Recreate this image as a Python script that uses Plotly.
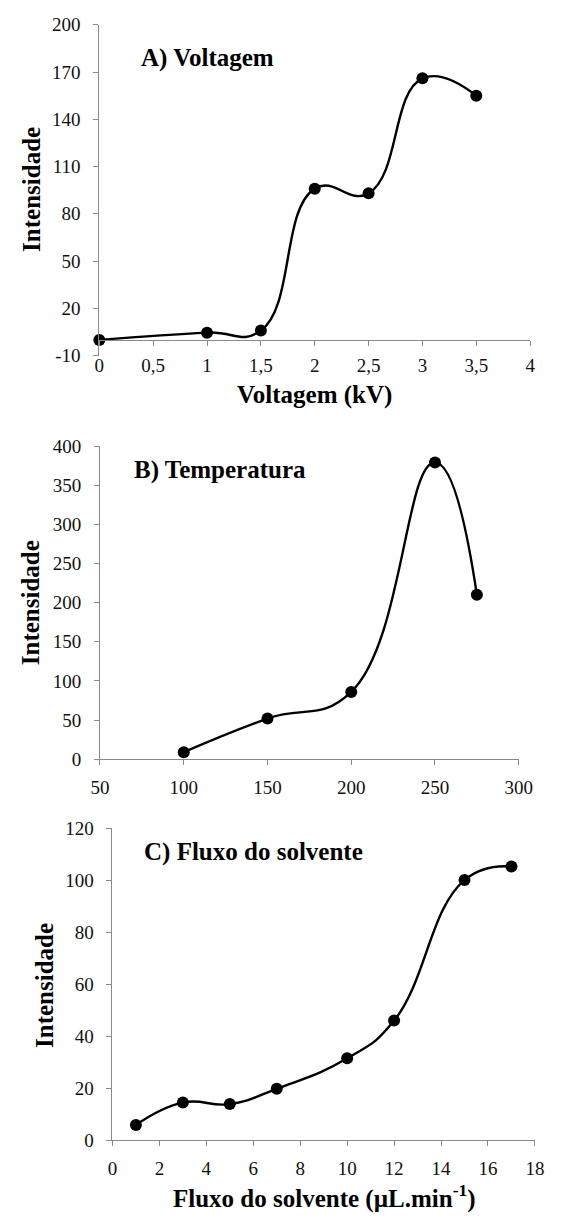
import plotly.graph_objects as go

# ---------------- data ----------------
volt_x = [0, 1, 1.5, 2, 2.5, 3, 3.5]
volt_y = [0, 4.6, 6, 96, 93, 166, 155]
temp_x = [100, 150, 200, 250, 275]
temp_y = [9, 52, 86, 379, 210]
flux_x = [1, 3, 5, 7, 10, 12, 15, 17]
flux_y = [5.9, 14.5, 13.9, 19.8, 31.5, 46, 100, 105.2]

volt_xticks = [0, 0.5, 1, 1.5, 2, 2.5, 3, 3.5, 4]
volt_xticktext = ["0", "0,5", "1", "1,5", "2", "2,5", "3", "3,5", "4"]
volt_yticks = [-10, 20, 50, 80, 110, 140, 170, 200]
volt_yticktext = ["-10", "20", "50", "80", "110", "140", "170", "200"]
temp_xticks = [50, 100, 150, 200, 250, 300]
temp_yticks = [0, 50, 100, 150, 200, 250, 300, 350, 400]
flux_xticks = [0, 2, 4, 6, 8, 10, 12, 14, 16, 18]
flux_yticks = [0, 20, 40, 60, 80, 100, 120]

panel_titles = ["A) Voltagem", "B) Temperatura", "C) Fluxo do solvente"]
y_title = "Intensidade"
x_title_a = "Voltagem (kV)"
x_title_c = "Fluxo do solvente (µL.min<sup>-1</sup>)"

# ---------------- layout helpers ----------------
W, H = 563, 1225
FONT = "'Liberation Serif', 'Times New Roman', 'DejaVu Serif', serif"
AXC = "#8a8a8a"


def fx(px):
    return px / W


def fy(py):
    return 1 - py / H


def ax(**kw):
    base = dict(showline=True, linecolor=AXC, linewidth=1, ticks="outside",
                ticklen=5, tickcolor=AXC, tickwidth=1, showgrid=False,
                zeroline=False, tickfont=dict(family=FONT, size=19, color="#111"))
    base.update(kw)
    return base


fig = go.Figure()
line = dict(color="black", width=2.4, shape="spline", smoothing=1.3)
marker = dict(color="black", size=12)
for xs, ys, xa, ya in [(volt_x, volt_y, "x", "y"),
                       (temp_x, temp_y, "x2", "y2"),
                       (flux_x, flux_y, "x3", "y3")]:
    fig.add_trace(go.Scatter(x=xs, y=ys, mode="lines+markers", line=line,
                             marker=marker, xaxis=xa, yaxis=ya,
                             cliponaxis=False, showlegend=False))

# panel A domain
a_y0, a_y1 = fy(351.7), fy(15)
a_pos = a_y0 + (0 - volt_yticks[0]) / (volt_yticks[-1] - volt_yticks[0]) * (a_y1 - a_y0)

fig.update_layout(
    width=W, height=H,
    margin=dict(l=0, r=0, t=0, b=0),
    paper_bgcolor="white", plot_bgcolor="white",
    font=dict(family=FONT, color="black"),
    xaxis=ax(domain=[fx(93.3), fx(543.3)], range=[0, 4], anchor="free",
             position=a_pos, tickvals=volt_xticks, ticktext=volt_xticktext,
             ticklabelstandoff=3),
    yaxis=ax(domain=[a_y0, a_y1], range=[-10, 200], anchor="x",
             tickvals=volt_yticks, ticktext=volt_yticktext, ticklabelstandoff=9),
    xaxis2=ax(domain=[fx(94), fx(531.4)], range=[50, 300], anchor="y2",
              tickvals=temp_xticks, ticklabelstandoff=6),
    yaxis2=ax(domain=[fy(762.3), fy(443.7)], range=[0, 400], anchor="x2",
              tickvals=temp_yticks, ticklabelstandoff=9),
    xaxis3=ax(domain=[fx(107), fx(548.3)], range=[0, 18], anchor="y3",
              tickvals=flux_xticks, ticklabelstandoff=6),
    yaxis3=ax(domain=[fy(1150), fy(832.3)], range=[0, 120], anchor="x3",
              tickvals=flux_yticks, ticklabelstandoff=9),
)

annos = []
for txt, (cx, cy) in zip(panel_titles, [(206.7, 49), (219, 468), (254, 857)]):
    annos.append(dict(text=f"<b>{txt}</b>", x=fx(cx), y=fy(cy)))
for cx, cy in [(23, 183), (21.5, 603), (36, 992.5)]:
    annos.append(dict(text=f"<b>{y_title}</b>", x=fx(cx), y=fy(cy), textangle=-90))
annos.append(dict(text=f"<b>{x_title_a}</b>", x=fx(318), y=fy(392)))
annos.append(dict(text=f"<b>{x_title_c}</b>", x=fx(328.5), y=fy(1207)))
for a in annos:
    a.update(xref="paper", yref="paper", xanchor="center", yanchor="middle",
             showarrow=False, font=dict(family=FONT, size=25, color="black"))
fig.update_layout(annotations=annos)

fig.write_html("out.html")
